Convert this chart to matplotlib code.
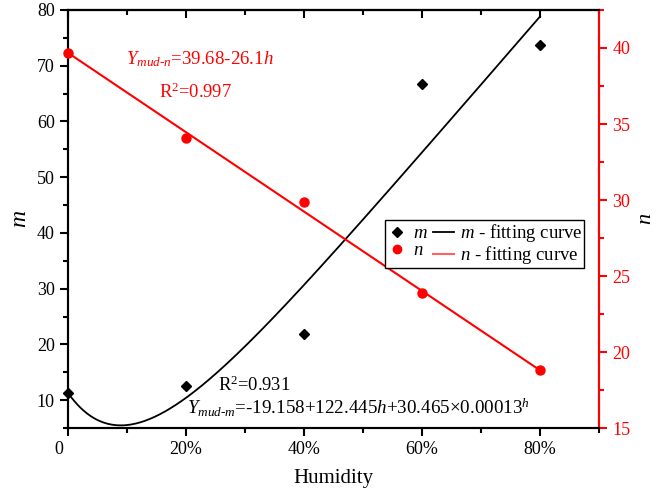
import numpy as np
import matplotlib
matplotlib.use("Agg")
import matplotlib.pyplot as plt
import matplotlib.transforms as mtrans
from matplotlib.lines import Line2D
from matplotlib.ticker import MultipleLocator, FixedLocator

plt.rcParams['font.family'] = ['Liberation Serif', 'DejaVu Serif']
plt.rcParams['mathtext.fontset'] = 'custom'
plt.rcParams['mathtext.rm'] = 'Liberation Serif'
plt.rcParams['mathtext.it'] = 'Liberation Serif:italic'

# humidity levels (%) and measured parameters
humidity = [0, 20, 40, 60, 80]
m_vals = [11.2, 12.5, 21.8, 66.7, 73.7]
n_vals = [39.7, 34.1, 29.9, 23.9, 18.8]
x_ticks = [0, 20, 40, 60, 80]
x_ticklabels = ['0', '20%', '40%', '60%', '80%']

# fitted coefficients
m_fit = (-19.158, 122.445, 30.465, 0.00013)
n_fit = (39.68, -26.1)

fig = plt.figure(figsize=(6.57, 4.92), dpi=100)
ax = fig.add_axes([0.1035, 0.130, 0.8082, 0.8497])
ax2 = ax.twinx()

h = np.linspace(0, 0.8, 300)
m_curve = m_fit[0] + m_fit[1] * h + m_fit[2] * m_fit[3] ** h
n_curve = n_fit[0] + n_fit[1] * h

ax.plot(h * 100, m_curve, color='black', lw=1.3, zorder=3)
ax.plot(humidity, m_vals, 'D', color='black', ms=5.5, zorder=4, clip_on=False)
ax2.plot(h * 100, n_curve, color='red', lw=1.5, zorder=3)
ax2.plot(humidity, n_vals, 'o', color='red', ms=6.5, zorder=4, clip_on=False)

ax.set_xlim(0, 90)
ax.set_ylim(5, 80)
ax2.set_ylim(15, 42.5)

ax.set_xticks(x_ticks)
ax.set_xticklabels(x_ticklabels)
ax.xaxis.set_minor_locator(MultipleLocator(10))
ax.yaxis.set_major_locator(FixedLocator([10, 20, 30, 40, 50, 60, 70, 80]))
ax.yaxis.set_minor_locator(MultipleLocator(5))
ax2.yaxis.set_major_locator(MultipleLocator(5))
ax2.yaxis.set_minor_locator(MultipleLocator(2.5))

ax.tick_params(which='major', direction='out', length=6, width=1.5, labelsize=13)
ax.tick_params(which='minor', direction='out', length=3.5, width=1.5)
ax2.tick_params(which='major', direction='out', length=6, width=1.5,
                labelsize=13, colors='red')
ax2.tick_params(which='minor', direction='out', length=3.5, width=1.5, colors='red')

# shift the "0" label a little to the left
lab0 = ax.get_xticklabels()[0]
lab0.set_transform(lab0.get_transform() + mtrans.ScaledTranslation(-0.09, 0, fig.dpi_scale_trans))

# top axis ticks pointing inward, no labels
top = ax.secondary_xaxis('top')
top.set_xticks(x_ticks)
top.xaxis.set_minor_locator(MultipleLocator(10))
top.tick_params(which='major', direction='in', length=6, width=1.5, labeltop=False)
top.tick_params(which='minor', direction='in', length=3.5, width=1.5)
top.spines['top'].set_linewidth(1.5)

for s in ax.spines.values():
    s.set_linewidth(1.5)
for s in ax2.spines.values():
    s.set_linewidth(1.5)
ax2.spines['right'].set_color('red')

ax.set_xlabel('Humidity', fontsize=15, labelpad=8)
ax.set_ylabel('$m$', fontsize=17, labelpad=4)
ax2.set_ylabel('$n$', fontsize=16, labelpad=5, color='black')

ax.text(9.9, 71.1, r'$Y_{mud\text{-}n}$=39.68-26.1$h$', color='red',
        fontsize=13.6, va='center', ha='left')
ax.text(15.5, 65.3, r'R$^2$=0.997', color='red', fontsize=13.3, va='center', ha='left')
ax.text(25.4, 12.6, r'R$^2$=0.931', color='black', fontsize=13.3, va='center', ha='left')
ax.text(20.2, 8.6, r'$Y_{mud\text{-}m}$=-19.158+122.445$h$+30.465$\times$0.00013$^{h}$',
        color='black', fontsize=13.7, va='center', ha='left')

handles = [Line2D([], [], ls='none', marker='D', color='black', ms=5),
           Line2D([], [], ls='none', marker='o', color='red', ms=6),
           Line2D([], [], color='black', lw=1.3),
           Line2D([], [], color='#ff6060', lw=1.5)]
labels = ['$m$', '$n$', '$m$ - fitting curve', '$n$ - fitting curve']
leg = ax2.legend(handles, labels, ncol=2, loc='upper left',
                 bbox_to_anchor=(0.597, 0.497), borderaxespad=0,
                 fontsize=13.5, frameon=True, fancybox=False, framealpha=1,
                 edgecolor='black', handlelength=1.1, handletextpad=0.3,
                 columnspacing=0.3, labelspacing=0.0, borderpad=0.1)
leg.get_frame().set_linewidth(1.0)

fig.savefig('out.png', dpi=100)
